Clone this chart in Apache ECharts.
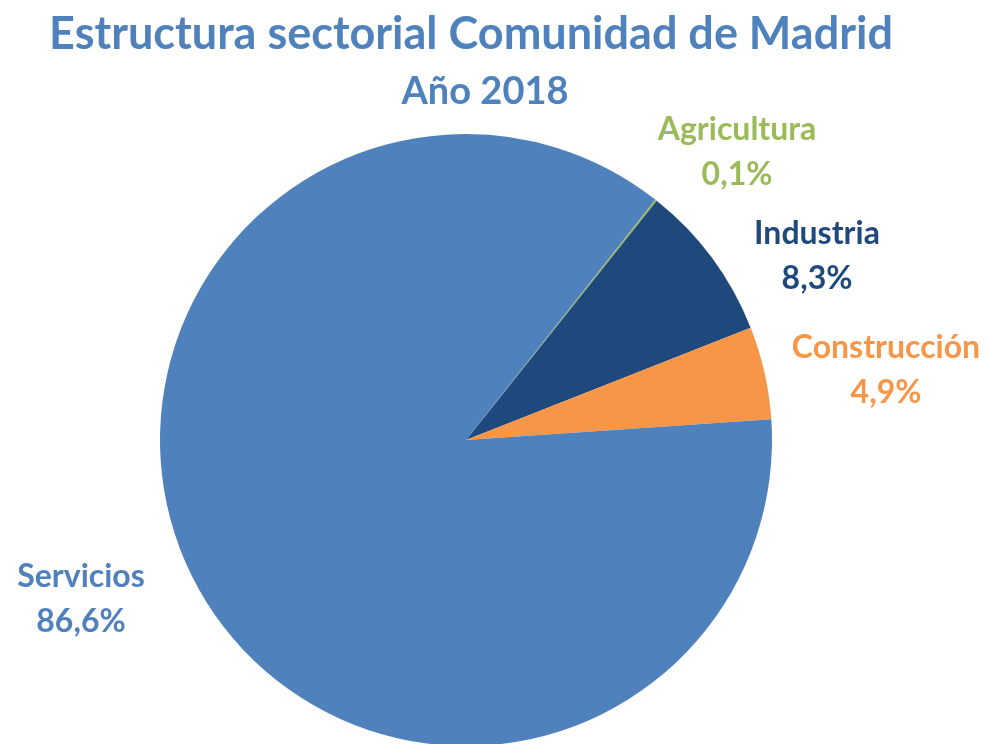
<!DOCTYPE html>
<html><head><meta charset="utf-8">
<script src="https://cdn.jsdelivr.net/npm/echarts@6/dist/echarts.min.js"></script>
<style>html,body{margin:0;padding:0;background:#fff}#c{width:990px;height:744px}</style>
</head><body><div id="c"></div>
<script>
const categories = ['Agricultura', 'Industria', 'Construcción', 'Servicios'];
const values = [0.1, 8.3, 4.9, 86.6];
const colors = ['#9BBB59', '#1F497D', '#F79646', '#4F81BD'];
const titleText = 'Estructura sectorial Comunidad de Madrid';
const subtitleText = 'Año 2018';
const labelPos = [[737, 152], [817, 256], [886, 370], [81, 599]];

const chart = echarts.init(document.getElementById('c'));
const FONT = 'Lato';
chart.setOption({
  animation: false,
  graphic: [
    { type: 'text', x: 471, y: 34, style: { text: titleText, fill: '#4F81BD', font: 'bold 45px ' + FONT, textAlign: 'center', textVerticalAlign: 'middle' } },
    { type: 'text', x: 485, y: 92, style: { text: subtitleText, fill: '#4F81BD', font: 'bold 38px ' + FONT, textAlign: 'center', textVerticalAlign: 'middle' } }
  ],
  series: [{
    type: 'pie',
    center: [466, 440],
    radius: 306,
    startAngle: 51.8,
    clockwise: true,
    avoidLabelOverlap: false,
    data: categories.map((n, i) => ({ name: n, value: values[i], itemStyle: { color: colors[i] }, label: { color: colors[i] } })),
    label: {
      show: true,
      position: 'outside',
      fontFamily: FONT,
      fontWeight: 'bold',
      fontSize: 32,
      lineHeight: 45,
      align: 'center',
      formatter: p => p.name + '\n' + p.value.toFixed(1).replace('.', ',') + '%'
    },
    labelLine: { show: false },
    labelLayout: p => ({ x: labelPos[p.dataIndex][0], y: labelPos[p.dataIndex][1], align: 'center', verticalAlign: 'middle' }),
    emphasis: { disabled: true }
  }]
});
</script></body></html>
